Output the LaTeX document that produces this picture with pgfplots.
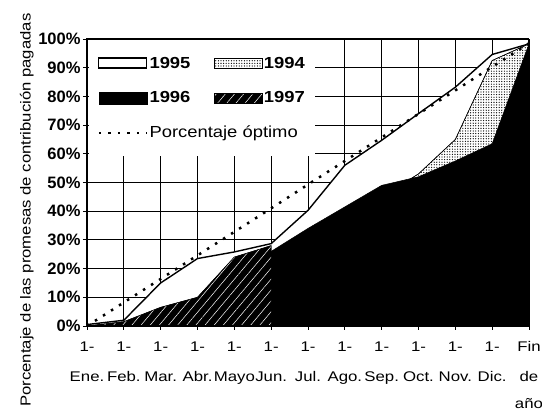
\documentclass[border=0pt]{standalone}
\usepackage{fontspec}
\setmainfont{Liberation Sans}
\newfontfamily\wide[FakeStretch=1.15]{Liberation Sans}
\newfontfamily\xwide[FakeStretch=1.2]{Liberation Sans}
\usepackage{pgfplots}
\pgfplotsset{compat=1.18}
\usetikzlibrary{patterns,patterns.meta}
\pgfplotsset{
  boxleg/.style={legend image code/.code={\path[##1] (0pt,-5pt) rectangle (48pt,5pt);}},
  bigboxleg/.style={legend image code/.code={\path[##1] (0pt,-6pt) rectangle (48pt,6pt);}},
  lineleg/.style={legend image code/.code={\draw[##1] (0pt,0pt) -- (48pt,0pt);}},
}

\begin{document}
\begin{tikzpicture}
\useasboundingbox (0,0) rectangle (542pt,417pt);
\begin{axis}[
  at={(87pt,91pt)}, anchor=south west,
  scale only axis, width=442pt, height=287pt,
  xmin=0, xmax=12, ymin=0, ymax=100,
  xtick={0,1,2,3,4,5,6,7,8,9,10,11,12},
  xticklabels={{1-\\[14pt]Ene.},{1-\\[14pt]Feb.},{1-\\[14pt]Mar.},{1-\\[14pt]Abr.},{1-\\[14pt]Mayo},{1-\\[14pt]Jun.},{1-\\[14pt]Jul.},{1-\\[14pt]Ago.},{1-\\[14pt]Sep.},{1-\\[14pt]Oct.},{1-\\[14pt]Nov.},{1-\\[14pt]Dic.},{Fin\\[14pt]de\\[11pt]año}},
  ytick={0,10,20,30,40,50,60,70,80,90,100},
  yticklabels={0\%,10\%,20\%,30\%,40\%,50\%,60\%,70\%,80\%,90\%,100\%},
  grid=major,
  major grid style={black, line width=0.9pt},
  axis line style={black, line width=1pt},
  tick align=outside, tick pos=left,
  major tick length=4pt,
  tick style={black, line width=0.9pt},
  x tick label style={align=center, font=\xwide\fontsize{14}{16}\selectfont, anchor=north, yshift=-8pt},
  y tick label style={font=\fontsize{16.5}{18}\selectfont\bfseries, xshift=1pt},
  ylabel={Porcentaje de las promesas de contribución pagadas},
  ylabel style={at={(axis description cs:-0.136,0.404)}, anchor=center, font=\wide\fontsize{14.5}{16}\selectfont},
  legend columns=2,
  legend cell align=left,
  legend style={at={(axis description cs:0.003,0.996)}, anchor=north west, fill=white, draw=none,
    inner xsep=9pt, inner ysep=15pt, font=\wide\fontsize{16}{18}\selectfont, row sep=19pt,
    /tikz/every even column/.append style={column sep=22pt}, nodes={inner sep=1.5pt}},
]
% 1995
\addplot[fill=white, draw=black, line width=1.4pt, boxleg]
  coordinates {(0,0.5)(1,2)(2,15)(3,23.5)(4,25.8)(5,28.7)(6,40.3)(7,56)(8,64.7)(9,74)(10,83.2)(11,94.6)(12,98.3)} \closedcycle;
\addlegendentry{\textbf{1995}}
% 1994
\addplot[fill=white, draw=black, line width=0.5pt, postaction={pattern={Dots[radius=0.65pt, distance=2.6pt]}}, boxleg]
  coordinates {(0,0)(1,1)(2,4)(3,8)(4,15)(5,22)(6,29)(7,37)(8,45)(9,53)(10,65)(11,92.5)(12,98.3)} \closedcycle;
\addlegendentry{\textbf{1994}}
% 1996
\addplot[fill=black, draw=black, line width=0.5pt, bigboxleg]
  coordinates {(0,0)(1,1)(2,4.5)(3,8.5)(4,17)(5,26)(6,34)(7,41.5)(8,49)(9,52)(10,57.5)(11,63.5)(12,98.3)} \closedcycle;
\addlegendentry{\textbf{1996}}
% 1997
\addplot[fill=black, draw=black, line width=0.5pt,
  postaction={pattern={Lines[angle=50, distance=7pt, line width=0.5pt]}, pattern color=white}, boxleg]
  coordinates {(0,0)(1,1.5)(2,6.5)(3,10)(4,24)(5,28)} \closedcycle;
\addlegendentry{\textbf{1997}}
% optimal
\addplot[black, line width=2.5pt, dash pattern=on 2.5pt off 7pt, lineleg]
  coordinates {(0,0)(1,8.2)(2,16.4)(3,24.6)(4,32.8)(5,41)(6,49.3)(7,57.5)(8,65.7)(9,73.9)(10,82.1)(11,90.3)(12,98.5)};
\addlegendentry{\makebox[0pt][l]{Porcentaje óptimo}}
\draw[black, line width=1pt] (rel axis cs:0,0) rectangle (rel axis cs:1,1);
\end{axis}
\end{tikzpicture}
\end{document}
